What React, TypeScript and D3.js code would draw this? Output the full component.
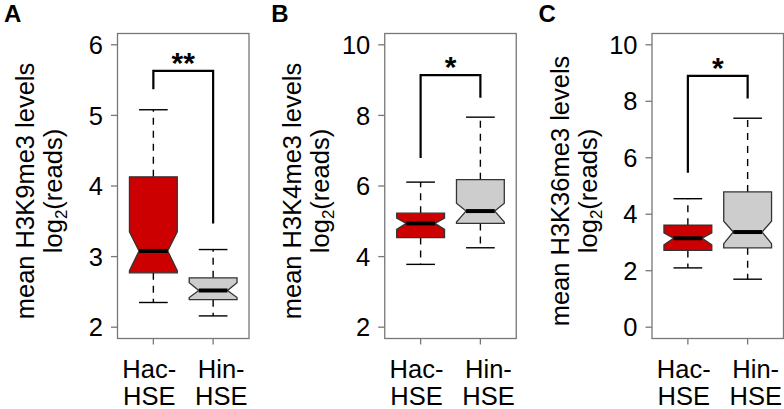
import React from "react";
import * as d3 from "d3";

// ---------- data ----------
const groups = ["Hac-HSE", "Hin-HSE"];
const groupLine1 = ["Hac-", "Hin-"];
const groupLine2 = ["HSE", "HSE"];
const panelLetters = ["A", "B", "C"];
const marks = ["H3K9me3", "H3K4me3", "H3K36me3"];
const yLims: [number, number][] = [[2, 6], [2, 10], [0, 10]];
const yTicksA = [2, 3, 4, 5, 6];
const yTicksB = [2, 4, 6, 8, 10];
const yTicksC = [0, 2, 4, 6, 8, 10];

// per panel: [Hac, Hin]
const whiskerLoA = [2.35, 2.16];
const q1A = [2.77, 2.39];
const notchLoA = [2.80, 2.42];
const medianA = [3.08, 2.52];
const notchHiA = [3.35, 2.63];
const q3A = [4.13, 2.70];
const whiskerHiA = [5.08, 3.10];

const whiskerLoB = [3.78, 4.25];
const q1B = [4.54, 4.94];
const notchLoB = [4.77, 4.98];
const medianB = [4.94, 5.29];
const notchHiB = [5.09, 5.51];
const q3B = [5.23, 6.18];
const whiskerHiB = [6.11, 7.95];

const whiskerLoC = [2.10, 1.70];
const q1C = [2.72, 2.81];
const notchLoC = [2.92, 2.96];
const medianC = [3.15, 3.37];
const notchHiC = [3.34, 3.75];
const q3C = [3.61, 4.79];
const whiskerHiC = [4.55, 7.40];

// significance brackets: [left end, top, right end]
const bracketA = [5.37, 5.63, 3.47];
const bracketB = [6.79, 9.14, 8.50];
const bracketC = [5.47, 8.90, 8.10];
const sigLabels = ["**", "*", "*"];

const panels = [
  { ticks: yTicksA, lo: whiskerLoA, q1: q1A, nlo: notchLoA, med: medianA, nhi: notchHiA, q3: q3A, hi: whiskerHiA, br: bracketA },
  { ticks: yTicksB, lo: whiskerLoB, q1: q1B, nlo: notchLoB, med: medianB, nhi: notchHiB, q3: q3B, hi: whiskerHiB, br: bracketB },
  { ticks: yTicksC, lo: whiskerLoC, q1: q1C, nlo: notchLoC, med: medianC, nhi: notchHiC, q3: q3C, hi: whiskerHiC, br: bracketC },
];

// ---------- layout ----------
const W = 784;
const H = 409;
const panelStep = 267.25;
const frameLeft0 = 117.5;
const frameW = 131.5;
const frameTop = 33.5;
const frameBottom = 338.5;
const fills = ["#CC0000", "#CDCDCD"];
const FONT = "'Liberation Sans', Arial, Helvetica, sans-serif";
const fs = 25.5;

function Panel({ i }: { i: number }) {
  const p = panels[i];
  const fl = frameLeft0 + i * panelStep;
  const fr = fl + frameW;
  const [l, h] = yLims[i];
  const ext = (h - l) * 0.04;
  const y = d3.scaleLinear().domain([l - ext, h + ext]).range([frameBottom, frameTop]);
  const x = d3.scaleLinear().domain([0.4, 2.6]).range([fl, fr]);
  const halfBox = x(1.4) - x(1);
  const notchHalf = halfBox * 0.6;
  const capHalf = halfBox * 0.6;
  const cy = 191;
  const cxFrame = (fl + fr) / 2;

  return (
    <g>
      <text x={fl - 113.5} y={22} fontFamily={FONT} fontWeight="bold" fontSize={24}>
        {panelLetters[i]}
      </text>
      {/* y title */}
      <text transform={`translate(${fl - 83.5},${cy}) rotate(-90)`} textAnchor="middle" fontFamily={FONT} fontSize={fs}>
        {`mean ${marks[i]} levels`}
      </text>
      <text transform={`translate(${fl - 55.5},${cy}) rotate(-90)`} textAnchor="middle" fontFamily={FONT} fontSize={fs}>
        log<tspan dy={5} fontSize={17}>2</tspan><tspan dy={-5}>(reads)</tspan>
      </text>
      {/* y axis ticks */}
      {p.ticks.map((t) => (
        <g key={t}>
          <line x1={fl - 6.5} x2={fl} y1={y(t)} y2={y(t)} stroke="#777" strokeWidth={1.3} />
          <text x={fl - 14.5} y={y(t)} dy="0.36em" textAnchor="end" fontFamily={FONT} fontSize={fs}>
            {t}
          </text>
        </g>
      ))}
      {/* x ticks */}
      {groups.map((g, k) => (
        <line key={g} x1={x(k + 1)} x2={x(k + 1)} y1={frameBottom} y2={frameBottom + 6} stroke="#777" strokeWidth={1.3} />
      ))}
      {groups.map((g, k) => {
        const cx = cxFrame + 2 + (k === 0 ? -36 : 36);
        return (
          <g key={g + "lab"}>
            <text x={cx} y={378} textAnchor="middle" fontFamily={FONT} fontSize={fs}>{groupLine1[k]}</text>
            <text x={cx} y={405} textAnchor="middle" fontFamily={FONT} fontSize={fs}>{groupLine2[k]}</text>
          </g>
        );
      })}
      {/* boxes */}
      {groups.map((g, k) => {
        const cx = x(k + 1);
        const xl = cx - halfBox;
        const xr = cx + halfBox;
        const pts: [number, number][] = [
          [xl, y(p.q1[k])],
          [xl, y(p.nlo[k])],
          [cx - notchHalf, y(p.med[k])],
          [xl, y(p.nhi[k])],
          [xl, y(p.q3[k])],
          [xr, y(p.q3[k])],
          [xr, y(p.nhi[k])],
          [cx + notchHalf, y(p.med[k])],
          [xr, y(p.nlo[k])],
          [xr, y(p.q1[k])],
        ];
        const path = d3.line()(pts) + "Z";
        return (
          <g key={g + "box"}>
            <line x1={cx} x2={cx} y1={y(p.q3[k])} y2={y(p.hi[k])} stroke="#000" strokeWidth={1.4} strokeDasharray="7,6" />
            <line x1={cx} x2={cx} y1={y(p.q1[k])} y2={y(p.lo[k])} stroke="#000" strokeWidth={1.4} strokeDasharray="7,6" />
            <line x1={cx - capHalf} x2={cx + capHalf} y1={y(p.hi[k])} y2={y(p.hi[k])} stroke="#000" strokeWidth={1.4} />
            <line x1={cx - capHalf} x2={cx + capHalf} y1={y(p.lo[k])} y2={y(p.lo[k])} stroke="#000" strokeWidth={1.4} />
            <path d={path} fill={fills[k]} stroke="#333" strokeWidth={1.3} />
            <line x1={cx - notchHalf} x2={cx + notchHalf} y1={y(p.med[k])} y2={y(p.med[k])} stroke="#000" strokeWidth={4} />
          </g>
        );
      })}
      {/* bracket */}
      <path
        d={`M${x(1)},${y(p.br[0])}V${y(p.br[1])}H${x(2)}V${y(p.br[2])}`}
        fill="none"
        stroke="#000"
        strokeWidth={2.2}
      />
      <text x={(x(1) + x(2)) / 2} y={y(p.br[1]) + 2} textAnchor="middle" fontFamily={FONT} fontWeight="bold" fontSize={30}>
        {sigLabels[i]}
      </text>
      {/* frame */}
      <rect x={fl} y={frameTop} width={frameW} height={frameBottom - frameTop} fill="none" stroke="#777" strokeWidth={1.3} />
    </g>
  );
}

export default function App() {
  return (
    <div style={{ position: "absolute", left: 0, top: 0 }}>
      <svg width={W} height={H} viewBox={`0 0 ${W} ${H}`} style={{ display: "block", background: "#fff" }}>
        <rect width={W} height={H} fill="#fff" />
        {panels.map((_, i) => (
          <Panel key={i} i={i} />
        ))}
      </svg>
    </div>
  );
}
